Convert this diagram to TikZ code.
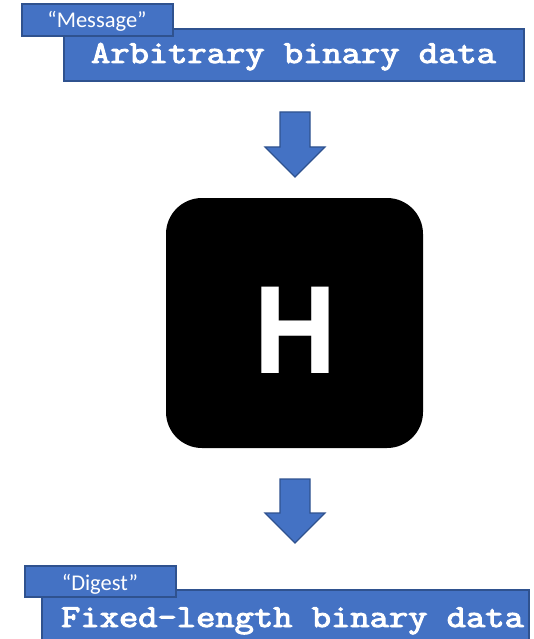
\documentclass[tikz,border=0pt]{standalone}
\usepackage{fontspec}
\setmainfont{Carlito}
\newfontfamily\iconfont{Open Sans}
\newfontfamily\codefont{Latin Modern Mono}[FakeBold=3]
\definecolor{boxblue}{HTML}{4472C4}
\definecolor{edgeblue}{HTML}{2F528F}
\newcommand{\widecode}[1]{\scalebox{1.17}[1]{#1}}
\begin{document}
\begin{tikzpicture}[x=1pt,y=-1pt,
  databox/.style={draw=edgeblue, line width=1.5pt, fill=boxblue, inner sep=0pt, outer sep=0pt},
  datatext/.style={font=\codefont\fontsize{32}{32}\selectfont, text=white, anchor=base, inner sep=0pt},
  tagtext/.style={font=\fontsize{22.5}{22.5}\selectfont, text=white, anchor=base, inner sep=0pt},
  blockarrow/.style={draw=edgeblue, line width=1.2pt, fill=boxblue, line join=miter}]
\useasboundingbox (0,0) rectangle (534,639);
\clip (0,0) rectangle (534,639);

% input: the message
\node[databox, minimum width=460pt, minimum height=52pt] (msgdata) at (294,55) {};
\node[datatext] (msgtext) at (293.5,63) {\widecode{Arbitrary binary data}};
\node[databox, minimum width=151pt, minimum height=32pt] (msgtag) at (97.5,20) {};
\node[tagtext] (msglabel) at (97,28) {“Message”};

% arrow into the hash function
\draw[blockarrow] (280,112) -- (310,112) -- (310,147) -- (325,147) -- (295,177)
  -- (265,147) -- (280,147) -- cycle;

% the hash function
\node[fill=black, rounded corners=36pt, minimum width=257pt, minimum height=250pt,
  inner sep=0pt] (hash) at (294.5,323) {};
\node[font=\iconfont\bfseries\fontsize{121}{121}\selectfont, text=white, anchor=base,
  inner sep=0pt] (hashletter) at (295.5,373) {\scalebox{0.95}[1]{H}};

% arrow out of the hash function
\draw[blockarrow] (280,479) -- (310,479) -- (310,513) -- (325,513) -- (295,543)
  -- (265,513) -- (280,513) -- cycle;

% output: the digest
\node[databox, minimum width=487pt, minimum height=60pt] (digdata) at (285.5,620) {};
\node[datatext] (digtext) at (292.5,627) {\widecode{Fixed-length binary data}};
\node[databox, minimum width=151pt, minimum height=31pt] (digtag) at (100.5,581.5) {};
\node[tagtext] (diglabel) at (100,590) {“Digest”};
\end{tikzpicture}
\end{document}
